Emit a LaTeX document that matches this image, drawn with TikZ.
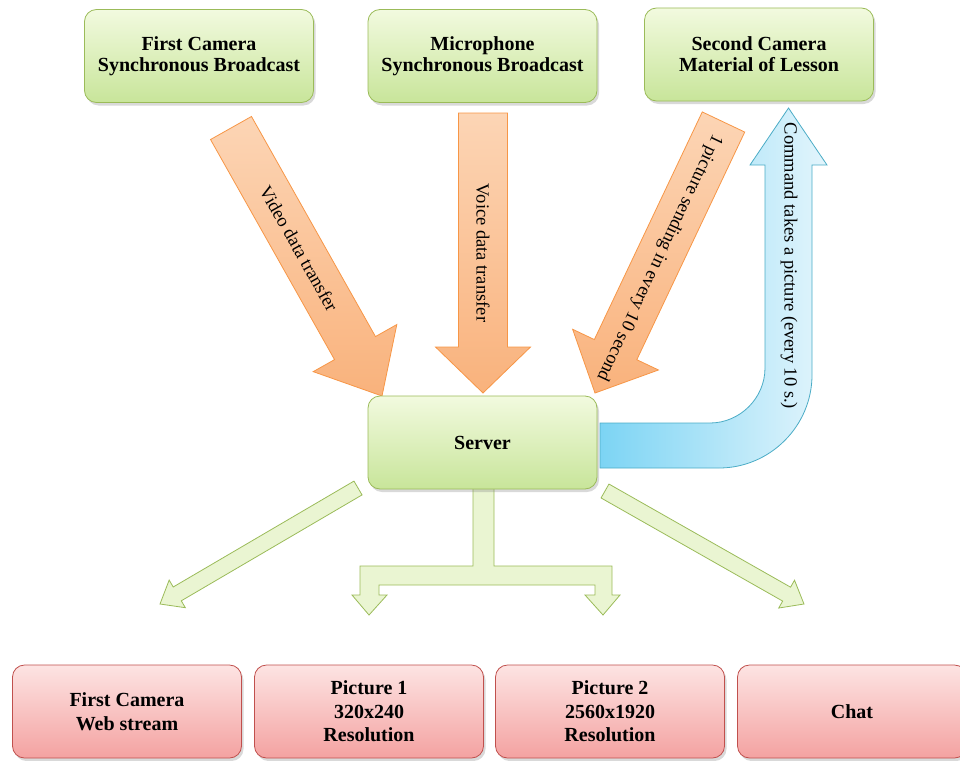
\documentclass[tikz,border=0pt]{standalone}
\usepackage{fontspec}
\setmainfont{Liberation Serif}
\usetikzlibrary{calc,shadows}

\definecolor{gbord}{HTML}{9BBB59}
\definecolor{gtop}{HTML}{F2FADF}
\definecolor{gbot}{HTML}{C8E59A}
\definecolor{rbord}{HTML}{C0504D}
\definecolor{rtop}{HTML}{FDE4E3}
\definecolor{rbot}{HTML}{F4A2A1}
\definecolor{obord}{HTML}{F79646}
\definecolor{otop}{HTML}{FCD5B5}
\definecolor{obot}{HTML}{F9B27C}
\definecolor{bbord}{HTML}{4BACC6}
\definecolor{bleft}{HTML}{7CD4F4}
\definecolor{bright}{HTML}{E3F5FC}
\definecolor{lgreen}{HTML}{EAF5D2}

% block arrow: style, tail, tip, half shaft, half head, head length
\newcommand{\fatarrow}[6]{%
  \coordinate (hb) at ($(#3)!#6!(#2)$);
  \path[#1] ($(#2)!#4!90:(#3)$) -- ($(hb)!#4!90:(#3)$) -- ($(hb)!#5!90:(#3)$) -- (#3)
    -- ($(hb)!#5!-90:(#3)$) -- ($(hb)!#4!-90:(#3)$) -- ($(#2)!#4!-90:(#3)$) -- cycle;
}

\begin{document}
\begin{tikzpicture}[x=1pt,y=-1pt,
  box/.style={rounded corners=12pt,minimum width=229pt,minimum height=93pt,align=center,
    line width=0.8pt,drop shadow={shadow xshift=2pt,shadow yshift=-3pt,opacity=0.3}},
  gbox/.style={box,draw=gbord,top color=gtop,bottom color=gbot,font=\fontsize{20}{21}\selectfont\bfseries},
  rbox/.style={box,draw=rbord,top color=rtop,bottom color=rbot,font=\fontsize{20}{23.5}\selectfont\bfseries},
  oarrow/.style={draw=obord,top color=otop,bottom color=obot,line width=0.8pt},
  garrow/.style={draw=gbord,fill=lgreen,line width=0.8pt},
  lbl/.style={font=\fontsize{18.5}{20}\selectfont,inner sep=0pt}]
\useasboundingbox (0,0) rectangle (960,760);

% arrows into the server
\coordinate (vid0) at (231,128);   \coordinate (vid1) at (382,396);
\coordinate (voi0) at (483,113);   \coordinate (voi1) at (483,393);
\coordinate (snd0) at (723.5,122); \coordinate (snd1) at (595,393);
\fatarrow{oarrow}{vid0}{vid1}{23.5pt}{48pt}{55pt}
\fatarrow{oarrow}{voi0}{voi1}{24.5pt}{47.5pt}{46pt}
\fatarrow{oarrow}{snd0}{snd1}{23.5pt}{47.5pt}{48pt}
\path (vid0) -- (vid1) node[lbl,pos=0.45,sloped,allow upside down]{Video data transfer};
\path (voi0) -- (voi1) node[lbl,pos=0.5,sloped,allow upside down]{Voice data transfer};
\path (snd0) -- (snd1) node[lbl,pos=0.5,sloped,allow upside down]{1 picture sending in every 10 second};

% command arrow back to the second camera
\path[draw=bbord,left color=bleft,right color=bright,line width=0.8pt]
  (600,423) -- (710,423) .. controls (740,423) and (765,398) .. (765,368) -- (765,165)
  -- (750,165) -- (788.5,108) -- (827,165) -- (812,165) -- (812,375)
  .. controls (812,426) and (770,468) .. (719,468) -- (600,468) -- cycle;
\node[lbl,rotate=-90] (cmd) at (789,266) {Command takes a picture (every 10 s.)};

% arrows out of the server
\coordinate (gl0) at (358,488); \coordinate (gl1) at (160,604);
\coordinate (gr0) at (605,491); \coordinate (gr1) at (804,604);
\fatarrow{garrow}{gl0}{gl1}{8pt}{16pt}{20pt}
\fatarrow{garrow}{gr0}{gr1}{8pt}{16pt}{20pt}
\path[garrow] (473,485) -- (494,485) -- (494,566) -- (612,566) -- (612,595) -- (620,595)
  -- (603,615) -- (585,595) -- (595,595) -- (595,585) -- (379,585) -- (379,595)
  -- (387,595) -- (369,615) -- (352,595) -- (360,595) -- (360,566) -- (473,566) -- cycle;

\node[gbox] (cam1) at (199,56) {First Camera\\Synchronous Broadcast};
\node[gbox] (mic) at (482.5,56) {Microphone\\Synchronous Broadcast};
\node[gbox] (cam2) at (759,54.5) {Second Camera\\Material of Lesson};
\node[gbox] (server) at (482.5,442.5) {Server};

\node[rbox] (web) at (127,711.5) {First Camera\\Web stream};
\node[rbox] (pic1) at (369,711.5) {Picture 1\\320x240\\Resolution};
\node[rbox] (pic2) at (610,711.5) {Picture 2\\2560x1920\\Resolution};
\node[rbox] (chat) at (852,711.5) {Chat};
\end{tikzpicture}
\end{document}
